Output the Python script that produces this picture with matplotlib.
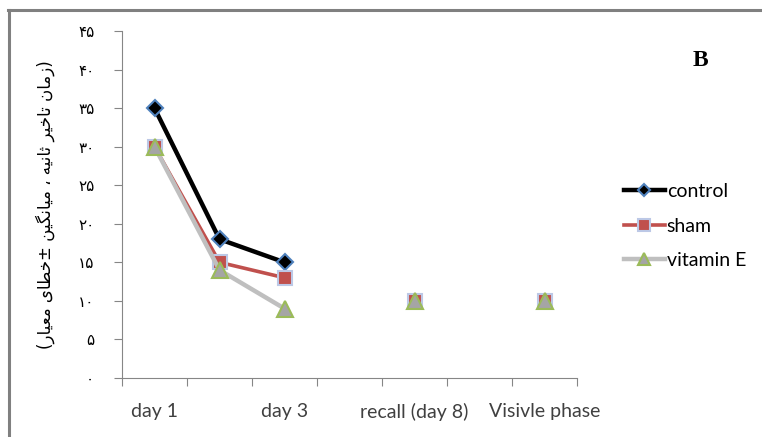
import numpy as np
import matplotlib.pyplot as plt
from matplotlib.lines import Line2D

categories = ["day 1", "", "day 3", "", "recall (day 8)", "", "Visivle phase"]
control = [35, 18, 15, np.nan, np.nan, np.nan, np.nan]
sham = [30, 15, 13, np.nan, 10, np.nan, 10]
vitamin_e = [30, 14, 9, np.nan, 10, np.nan, 10]
yticks = list(range(0, 50, 5))
ylabel = "(زمان تاخیر ثانیه ، میانگین ±خطای معیار)"

# matplotlib has no arabic shaping, so pick presentation forms by hand
# (isolated, final, initial, medial); None = letter does not join to the left
FORMS = {
    "ا": ("\uFE8D", "\uFE8E", None, None),
    "ت": ("\uFE95", "\uFE96", "\uFE97", "\uFE98"),
    "ث": ("\uFE99", "\uFE9A", "\uFE9B", "\uFE9C"),
    "خ": ("\uFEA5", "\uFEA6", "\uFEA7", "\uFEA8"),
    "ر": ("\uFEAD", "\uFEAE", None, None),
    "ز": ("\uFEAF", "\uFEB0", None, None),
    "ط": ("\uFEC1", "\uFEC2", "\uFEC3", "\uFEC4"),
    "ع": ("\uFEC9", "\uFECA", "\uFECB", "\uFECC"),
    "م": ("\uFEE1", "\uFEE2", "\uFEE3", "\uFEE4"),
    "ن": ("\uFEE5", "\uFEE6", "\uFEE7", "\uFEE8"),
    "ه": ("\uFEE9", "\uFEEA", "\uFEEB", "\uFEEC"),
    "ی": ("\uFBFC", "\uFBFD", "\uFBFE", "\uFBFF"),
    "گ": ("\uFB92", "\uFB93", "\uFB94", "\uFB95"),
}


def shape(text):
    out = []
    for i, c in enumerate(text):
        if c not in FORMS:
            out.append(c)
            continue
        prev = text[i - 1] if i > 0 else ""
        nxt = text[i + 1] if i + 1 < len(text) else ""
        jp = prev in FORMS and FORMS[prev][2] is not None
        jn = nxt in FORMS and FORMS[c][2] is not None
        iso, fin, ini, med = FORMS[c]
        out.append(med if jp and jn else fin if jp else ini if jn else iso)
    vis = "".join(reversed(out))
    return vis.translate(str.maketrans("()", ")("))


def fa_digits(n):
    return str(n).translate(str.maketrans("0123456789", "۰۱۲۳۴۵۶۷۸۹"))


fig = plt.figure(figsize=(7.62, 4.37), dpi=100)
ax = fig.add_axes([122 / 762, 1 - 378 / 437, 455 / 762, 347 / 437])

x = np.arange(len(categories))
ax.plot(x, control, color="black", lw=3.2, marker="D", ms=8,
        mfc="black", mec="#4F81BD", mew=1.5, label="control")
ax.plot(x, sham, color="#C0504D", lw=2.6, marker="s", ms=10,
        mfc="#C0504D", mec="#BCC8E6", mew=1.5, label="sham")
ax.plot(x, vitamin_e, color="#BFBFBF", lw=3.2, marker="^", ms=11,
        mfc="#A5A5A5", mec="#9BBB59", mew=1.5, label="vitamin E")

ax.set_xlim(-0.5, len(categories) - 0.5)
ax.set_ylim(0, 45)
ax.set_xticks(np.arange(-0.5, len(categories), 1))
ax.set_xticklabels([])
ax.set_xticks(x, minor=True)
ax.set_xticklabels(categories, minor=True, fontfamily="Lato", fontsize=14,
                   color="#404040")
ax.tick_params(axis="x", which="minor", length=0, pad=18)
ax.tick_params(axis="x", which="major", length=6, color="#868686")
ax.set_yticks(yticks)
ax.set_yticklabels([fa_digits(v) for v in yticks], fontfamily="DejaVu Sans",
                   fontsize=11)
ax.tick_params(axis="y", length=6, color="#868686", pad=14)
for s in ["top", "right"]:
    ax.spines[s].set_visible(False)
for s in ["left", "bottom"]:
    ax.spines[s].set_color("#868686")

fig.text(45 / 762, 1 - 205 / 437, shape(ylabel), rotation=90, ha="center",
         va="center", fontsize=12, fontfamily="DejaVu Sans")
fig.text(700 / 762, 1 - 60 / 437, "B", fontsize=17, fontweight="bold",
         fontfamily="Liberation Serif", ha="center", va="center")

leg = fig.legend(loc="center left", bbox_to_anchor=(624 / 762, 1 - 226 / 437),
                 frameon=False, prop={"family": "Lato", "size": 14},
                 handlelength=2.1, handletextpad=0.1, labelspacing=0.9,
                 borderaxespad=0, borderpad=0, markerscale=0.8)

# grey chart-area border, only top and left fall inside the picture
fig.add_artist(Line2D([9 / 762, 9 / 762], [0, 1 - 10 / 437],
                      transform=fig.transFigure, color="#808080", lw=2.2))
fig.add_artist(Line2D([8 / 762, 1], [1 - 10 / 437, 1 - 10 / 437],
                      transform=fig.transFigure, color="#808080", lw=2.2))

fig.savefig("out.png", dpi=100)
